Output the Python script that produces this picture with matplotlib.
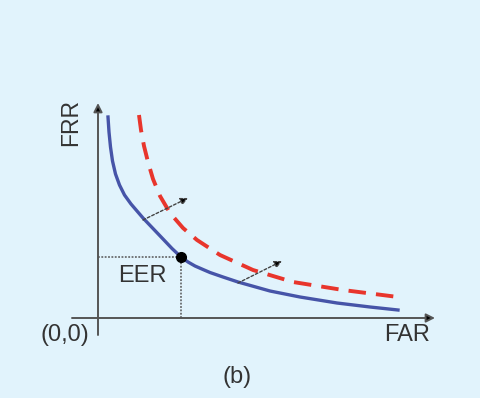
import matplotlib
matplotlib.use("Agg")
import matplotlib.pyplot as plt

# curve points (FAR, FRR), arbitrary units
blue_far = [0.10, 0.11, 0.125, 0.145, 0.175, 0.215, 0.265, 0.33, 0.39, 0.45, 0.55, 0.65,
            0.74, 0.83, 0.90, 0.97, 1.05, 1.12, 1.25, 1.40, 1.72, 2.02, 2.39, 2.72, 3.00]
blue_frr = [2.01, 1.86, 1.71, 1.57, 1.44, 1.33, 1.23, 1.14, 1.07, 1.00, 0.895, 0.79,
            0.695, 0.61, 0.56, 0.52, 0.485, 0.455, 0.41, 0.36, 0.27, 0.21, 0.15, 0.11, 0.08]
red_far = [0.41, 0.43, 0.46, 0.50, 0.55, 0.62, 0.72, 0.85, 0.99, 1.22, 1.55, 1.95, 2.45, 3.00]
red_frr = [2.03, 1.88, 1.72, 1.56, 1.39, 1.22, 1.05, 0.90, 0.78, 0.63, 0.48, 0.36, 0.28, 0.21]
eer = (0.83, 0.61)
# small "improvement" arrows: (start, end)
shift_arrows = [((0.45, 0.98), (0.90, 1.20)), ((1.40, 0.35), (1.84, 0.57))]

bg = "#e1f3fc"
axis_col = "#555555"
text_col = "#333333"
font = ["Liberation Sans", "DejaVu Sans"]

fig = plt.figure(figsize=(4.81, 3.98), dpi=100, facecolor=bg)
ax = fig.add_axes([0, 0, 1, 1])
ax.set_facecolor(bg)
ax.set_xlim(-0.98, 3.83)
ax.set_ylim(-0.80, 3.18)
ax.axis("off")

# axes with arrow heads
ax.annotate("", xy=(3.37, 0), xytext=(-0.26, 0),
            arrowprops=dict(arrowstyle="-|>", color=axis_col, lw=1.4,
                            mutation_scale=13, shrinkA=0, shrinkB=0,
                            fc="black", ec=axis_col))
ax.annotate("", xy=(0, 2.15), xytext=(0, -0.17),
            arrowprops=dict(arrowstyle="-|>", color=axis_col, lw=1.4,
                            mutation_scale=13, shrinkA=0, shrinkB=0,
                            fc="black", ec=axis_col))

# curves
ax.plot(blue_far, blue_frr, color="#4654a8", lw=2.4, solid_joinstyle="round")
ax.plot(red_far, red_frr, color="#e8352c", lw=2.8, dashes=(4.5, 2.6))

# EER guides and point
ax.plot([0, eer[0]], [eer[1], eer[1]], color=axis_col, lw=1.1, dashes=(1.2, 1.0))
ax.plot([eer[0], eer[0]], [0, eer[1]], color=axis_col, lw=1.1, dashes=(1.2, 1.0))
ax.plot([eer[0]], [eer[1]], "o", color="black", ms=7, zorder=5)

for start, end in shift_arrows:
    ax.annotate("", xy=end, xytext=start,
                arrowprops=dict(arrowstyle="-|>", color="#444444", lw=1.0,
                                ls=(0, (2, 1.5)), mutation_scale=11,
                                shrinkA=0, shrinkB=0, fc="black"))

# labels
ax.text(-0.27, 1.95, "FRR", rotation=90, ha="center", va="center",
        fontsize=16.5, color=text_col, family=font)
ax.text(3.09, -0.17, "FAR", ha="center", va="center",
        fontsize=17, color=text_col, family=font)
ax.text(0.44, 0.42, "EER", ha="center", va="center",
        fontsize=17, color=text_col, family=font)
ax.text(-0.33, -0.17, "(0,0)", ha="center", va="center",
        fontsize=17, color=text_col, family=font)
ax.text(1.39, -0.59, "(b)", ha="center", va="center",
        fontsize=17, color=text_col, family=font)

fig.savefig("out.png", dpi=100, facecolor=bg)
